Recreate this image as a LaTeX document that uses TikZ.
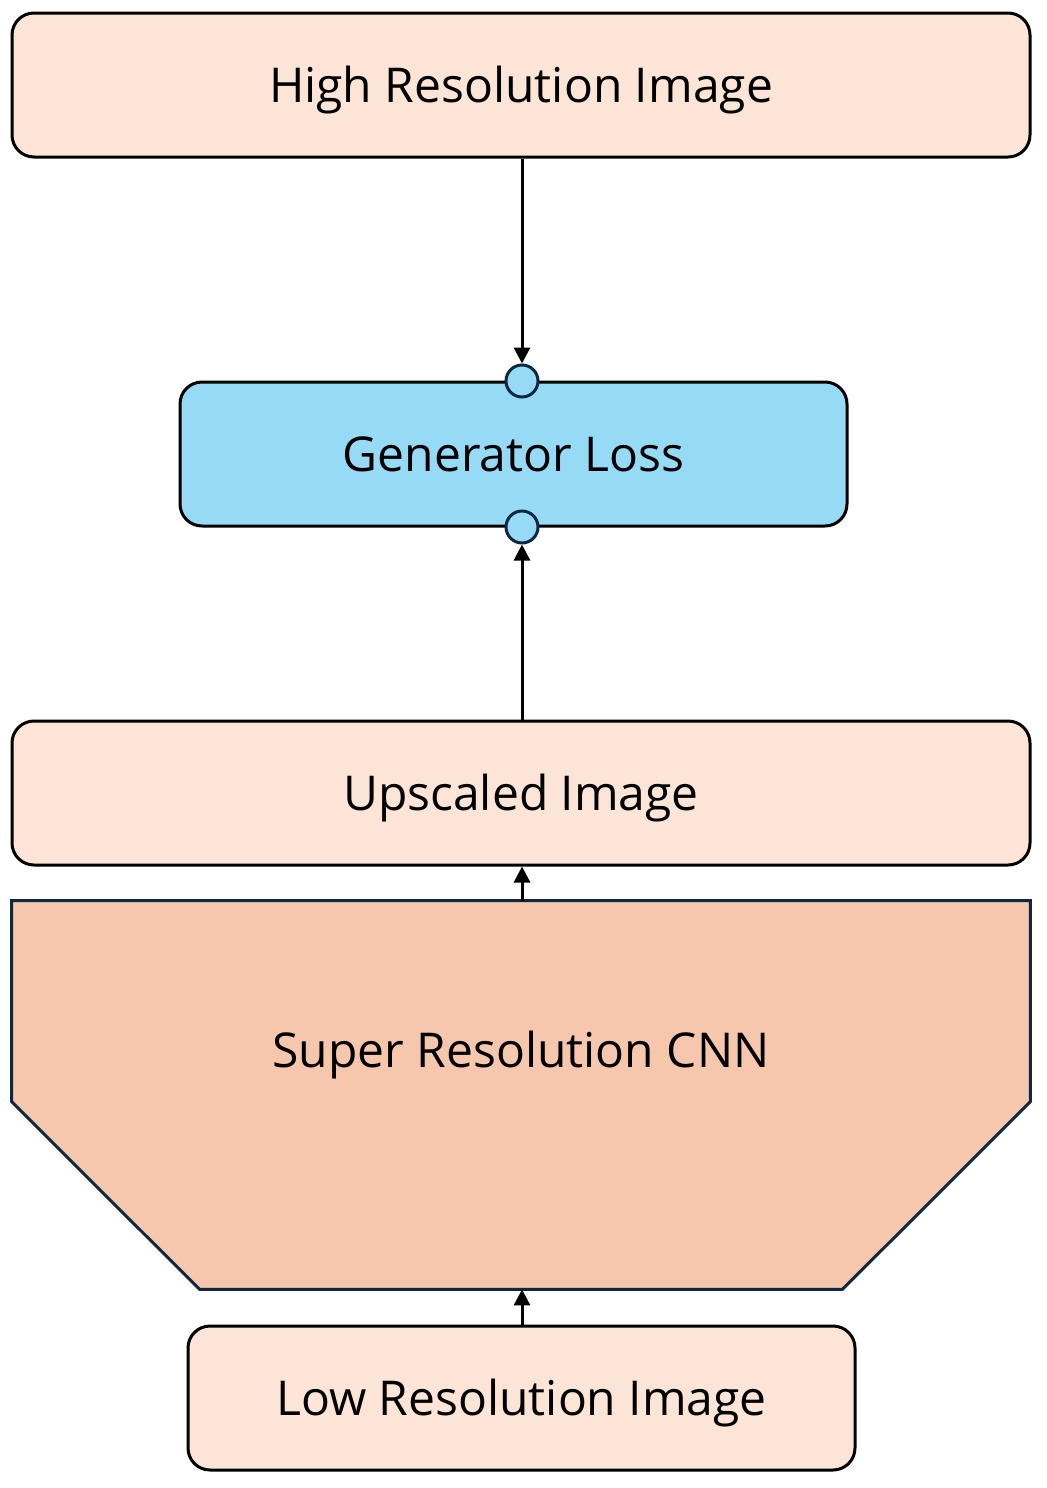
\documentclass[tikz,border=0pt]{standalone}
\usepackage{fontspec}
\setmainfont{Open Sans}
\usetikzlibrary{arrows.meta,calc}
\definecolor{peach}{HTML}{FCE4D6}
\definecolor{cnnfill}{HTML}{F6C6AD}
\definecolor{lossblue}{HTML}{97DAF6}
\definecolor{navy}{HTML}{0E2841}
\tikzset{
  label text/.style={font=\fontsize{24}{29}\selectfont, text height=17pt, text depth=0pt},
  imgbox/.style={rectangle, rounded corners=11pt, draw=black, line width=1.5pt, fill=peach,
    minimum width=509pt, minimum height=72pt, label text},
  lossbox/.style={imgbox, fill=lossblue, minimum width=333.5pt},
  port/.style={circle, draw=navy, line width=1.5pt, fill=lossblue, minimum size=16pt, inner sep=0pt},
  flow/.style={line width=1.5pt, black, -{Triangle[width=8pt,length=8pt]}}
}

\begin{document}
\begin{tikzpicture}[x=0.5pt,y=-0.5pt]
\useasboundingbox (0,0) rectangle (1047,1488);

\node[imgbox] (hr) at (521,85) {High Resolution Image};
\node[lossbox] (loss) at (513.5,454) {Generator Loss};
\node[port] (in1) at (522,381) {};
\node[port] (in2) at (522,527) {};
\node[imgbox] (up) at (521,793) {Upscaled Image};

% network body
\node[minimum width=509pt, minimum height=194pt, inner sep=0pt] (cnn) at (521,1095) {};
\filldraw[fill=cnnfill, draw=navy, line width=1.5pt]
  (cnn.north west) -- (cnn.north east) -- ($(cnn.north east)+(0,201)$)
  -- ($(cnn.south east)+(-188,0)$) -- ($(cnn.south west)+(188,0)$)
  -- ($(cnn.north west)+(0,201)$) -- cycle;
\node[label text] (cnnlabel) at (521,1050) {Super Resolution CNN};

\node[imgbox, minimum width=333.5pt] (lr) at (521.5,1398) {Low Resolution Image};

\draw[flow] (hr.south -| in1) -- (in1.north);
\draw[flow] (up.north -| in2) -- (in2.south);
\draw[flow] (cnn.north -| in2) -- (up.south -| in2);
\draw[flow] (lr.north -| in2) -- (cnn.south -| in2);

\end{tikzpicture}
\end{document}
